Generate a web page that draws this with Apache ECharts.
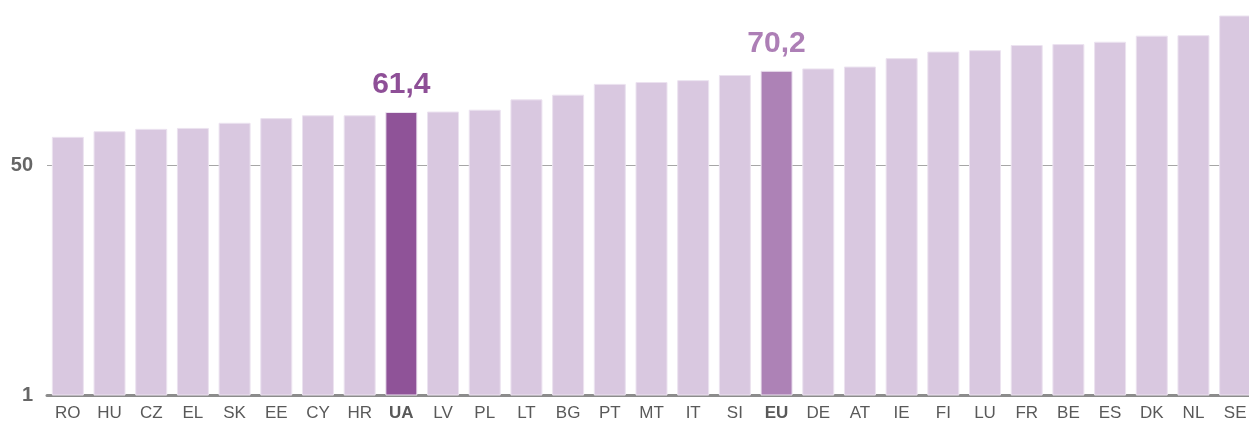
<!DOCTYPE html>
<html>
<head>
<meta charset="utf-8">
<script src="https://cdn.jsdelivr.net/npm/echarts@6/dist/echarts.min.js"></script>
<style>
  html, body { margin: 0; padding: 0; background: #fff; overflow: hidden; }
  /* a bit wider than the window: the last bar is cut off at the right edge */
  #chart { width: 1256px; height: 427px; }
</style>
</head>
<body>
<div id="chart"></div>
<script>
// countries, sorted by value
const countries = ['RO', 'HU', 'CZ', 'EL', 'SK', 'EE', 'CY', 'HR', 'UA', 'LV', 'PL', 'LT', 'BG', 'PT', 'MT',
    'IT', 'SI', 'EU', 'DE', 'AT', 'IE', 'FI', 'LU', 'FR', 'BE', 'ES', 'DK', 'NL', 'SE'];
const values = [56.1, 57.3, 57.8, 58.0, 59.1, 60.1, 60.7, 60.7, 61.4, 61.5, 61.9, 64.1, 65.1, 67.4, 67.8,
    68.2, 69.3, 70.2, 70.7, 71.1, 72.9, 74.3, 74.6, 75.7, 75.9, 76.4, 77.7, 77.8, 82.0];
const yTicks = [1, 50];
const highlighted = ['UA', 'EU'];

// kleuren
const barColor = { UA: '#8f5398', EU: '#ad82b6' };
const labelColor = { UA: '#8e4f97', EU: '#ad7fb6' };
const baseColor = '#d9c8e0';

const chart = echarts.init(document.getElementById('chart'));

const seriesData = countries.map((c, i) => {
    const item = {
        value: values[i],
        itemStyle: { color: barColor[c] || baseColor }
    };
    if (highlighted.includes(c)) {
        item.label = {
            show: true,
            position: 'top',
            distance: 12,
            color: labelColor[c],
            fontSize: 30,
            fontWeight: 'bold',
            formatter: p => p.value.toFixed(1).replace('.', ',')
        };
    }
    return item;
});

chart.setOption({
    animation: false,
    textStyle: { fontFamily: 'Liberation Sans, Arial, sans-serif' },
    grid: { left: 47, right: 0, top: 10.8, bottom: 32 },
    xAxis: {
        type: 'category',
        data: countries,
        axisTick: { show: false },
        axisLine: { lineStyle: { color: '#8c8c8c', width: 3 } },
        axisLabel: {
            interval: 0,
            margin: 10,
            fontSize: 17,
            color: '#595959',
            formatter: v => highlighted.includes(v) ? '{b|' + v + '}' : v,
            rich: { b: { fontSize: 17, fontWeight: 'bold', color: '#595959' } }
        }
    },
    yAxis: {
        type: 'value',
        min: yTicks[0],
        max: 83,
        interval: yTicks[1] - yTicks[0],
        axisLine: { show: false },
        axisTick: { show: false },
        axisLabel: {
            margin: 14,
            fontSize: 20,
            fontWeight: 'bold',
            color: '#666',
            formatter: v => yTicks.includes(v) ? String(v) : ''
        },
        splitLine: { showMaxLine: false, lineStyle: { color: '#a6a6a6', width: 1 } }
    },
    series: [{
        type: 'bar',
        data: seriesData,
        barWidth: 32,
        itemStyle: { borderColor: '#ece3f0', borderWidth: 1 },
        label: { show: false }
    }]
});
</script>
</body>
</html>
